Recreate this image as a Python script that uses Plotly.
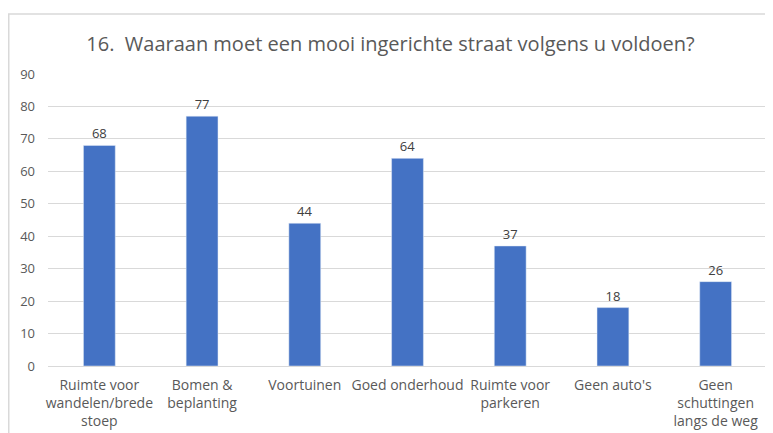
import plotly.graph_objects as go

categories = ["Ruimte voor<br>wandelen/brede<br>stoep", "Bomen &<br>beplanting", "Voortuinen",
              "Goed onderhoud", "Ruimte voor<br>parkeren", "Geen auto's",
              "Geen<br>schuttingen<br>langs de weg"]
values = [68, 77, 44, 64, 37, 18, 26]
y_ticks = [0, 10, 20, 30, 40, 50, 60, 70, 80, 90]

# the page body adds an 8px offset, so the figure is 8px smaller than the window
W, H = 765, 425
ml, mr, mt, mb = 40, 6, 66, 67
pw = W - ml - mr
ph = H - mt - mb

fig = go.Figure(go.Bar(
    x=categories, y=values, marker_color="#4472C4", width=0.31,
    text=[str(v) for v in values], textposition="outside",
    textfont=dict(size=13, color="#404040"), cliponaxis=False,
))

fig.update_layout(
    width=W, height=H,
    margin=dict(l=ml, r=mr, t=mt, b=mb, autoexpand=False),
    paper_bgcolor="white", plot_bgcolor="white",
    font=dict(family="Open Sans, Liberation Sans, sans-serif", color="#595959", size=13),
    title=dict(text="16.  Waaraan moet een mooi ingerichte straat volgens u voldoen?",
               x=0.5, xanchor="center", y=1 - 36 / H, yanchor="middle",
               font=dict(size=20, color="#595959")),
    showlegend=False,
    yaxis=dict(range=[0, 90], tickvals=y_ticks, showgrid=True, gridcolor="#D9D9D9",
               gridwidth=1, zeroline=False, ticks="", tickfont=dict(size=13, color="#595959"),
               ticklabelstandoff=12, showline=False, automargin=False),
    xaxis=dict(showline=True, linecolor="#D9D9D9", linewidth=1, ticks="", automargin=False,
               tickfont=dict(size=14, color="#595959"), ticklabelstandoff=6),
    shapes=[dict(type="rect", xref="paper", yref="paper",
                 x0=(0.75 - ml) / pw, x1=(W + 10 - ml) / pw,
                 y0=-(H + 10 - (H - mb)) / ph, y1=1 + (mt - 6) / ph,
                 line=dict(color="#D9D9D9", width=1.5), fillcolor="rgba(0,0,0,0)", layer="below")],
)

fig.write_html("out.html")
